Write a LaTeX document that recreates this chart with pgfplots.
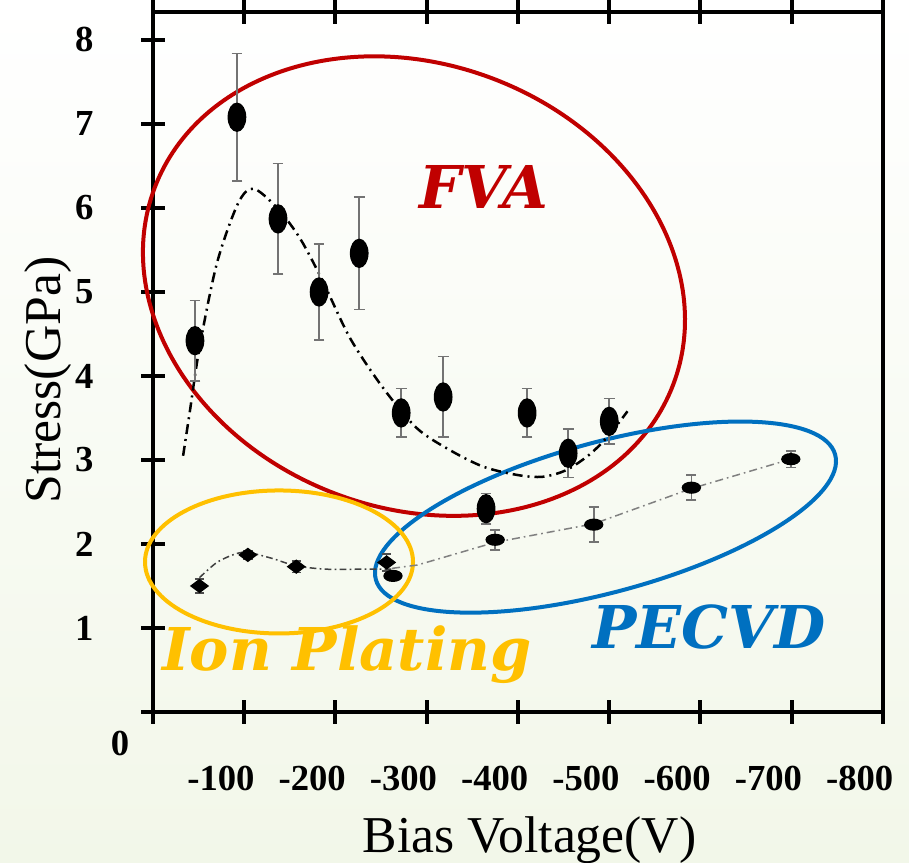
\documentclass[border=0pt]{standalone}
\usepackage{fontspec}
\setmainfont{Liberation Serif}
\newfontfamily\annfont{DejaVu Serif}
\usepackage{pgfplots}
\usepackage{pgfplotstable}
\pgfplotsset{compat=1.18}

\definecolor{fvared}{RGB}{192,0,0}
\definecolor{ionyellow}{RGB}{255,192,0}
\definecolor{pecblue}{RGB}{0,112,192}
\definecolor{bgbottom}{RGB}{242,247,233}

% FVA points (bias as positive magnitude)
\pgfplotstableread{
x   y    e
46  4.42 0.48
92  7.08 0.76
137 5.87 0.66
182 5.00 0.57
226 5.46 0.67
272 3.56 0.29
318 3.75 0.48
365 2.42 0.18
410 3.56 0.29
455 3.08 0.29
500 3.46 0.27
}\fvadata

\pgfplotstableread{
x   y
33  3.05
40  3.55
51  4.34
70  5.34
93  6.05
110 6.23
136 6.00
161 5.64
186 5.13
216 4.45
252 3.86
289 3.38
325 3.12
362 2.92
400 2.82
427 2.80
453 2.88
479 3.07
500 3.30
520 3.58
}\fvafit

\pgfplotstableread{
x   y    e
51  1.50 0.08
104 1.87 0.05
157 1.73 0.07
256 1.78 0.10
}\iondata

\pgfplotstableread{
x   y
51  1.60
70  1.78
90  1.88
104 1.90
130 1.83
157 1.74
190 1.70
230 1.70
262 1.70
}\ionfit

\pgfplotstableread{
x   y    e
263 1.62 0.05
375 2.05 0.12
483 2.23 0.21
590 2.67 0.15
699 3.01 0.10
}\pecdata

\pgfplotstableread{
x   y
262 1.71
290 1.75
375 2.02
483 2.24
590 2.66
699 3.01
}\pecfit

\begin{document}
\begin{tikzpicture}
\shade[top color=white, bottom color=bgbottom] (-45.9pt,-45.3pt) rectangle (226.8pt,213.6pt);
\begin{axis}[
  at={(0,0)}, anchor=south west,
  scale only axis, width=219pt, height=210pt,
  xmin=0, xmax=800, ymin=0, ymax=8.333,
  clip=false,
  axis line style={line width=1.3pt},
  xtick={0,100,...,800},
  xticklabels={,-100,-200,-300,-400,-500,-600,-700,-800},
  ytick={1,...,8},
  yticklabels={1,2,3,4,5,6,7,8},
  extra y ticks={0}, extra y tick labels={},
  xtick pos=both, ytick pos=left,
  tick align=center,
  major tick length=7pt,
  every tick/.style={black, line width=1.2pt},
  tick label style={font=\fontsize{11}{13}\selectfont\bfseries},
  yticklabel style={anchor=center, xshift=-17.1pt},
  xticklabel style={anchor=base, xshift=-7pt, yshift=-20pt},
  xlabel={Bias Voltage(V)},
  ylabel={Stress(GPa)},
  every axis x label/.style={at={(axis description cs:0.516,-0.2)}, anchor=base,
    font=\fontsize{15.5}{18}\selectfont},
  every axis y label/.style={at={(axis description cs:-0.127,0.474)}, rotate=90, anchor=base,
    font=\fontsize{15.5}{18}\selectfont},
]

% group outlines
\draw[fvared, line width=1.2pt, rotate around={-20.8:(axis cs:286,5.07)}]
  (axis cs:286,5.07) ellipse [x radius=83.2pt, y radius=66.6pt];
\draw[pecblue, line width=1.2pt, rotate around={15.2:(axis cs:495.9,2.32)}]
  (axis cs:495.9,2.32) ellipse [x radius=71.4pt, y radius=22.5pt];
\draw[ionyellow, line width=1.2pt]
  (axis cs:138.1,1.786) ellipse [x radius=40.2pt, y radius=21.45pt];

% fitted trend lines
\addplot[black, line width=0.75pt, smooth, dash pattern=on 3pt off 1.5pt on 0.6pt off 1.5pt] table[x=x,y=y] {\fvafit};
\addplot[black!75, line width=0.45pt, smooth, dash pattern=on 2pt off 1pt on 0.5pt off 1pt] table[x=x,y=y] {\ionfit};
\addplot[black!50, line width=0.45pt, dash pattern=on 2.4pt off 1.2pt on 0.5pt off 1.2pt] table[x=x,y=y] {\pecfit};

% measured points
\addplot[only marks, mark=*, mark size=4.2pt, mark options={xscale=0.62, fill=black, draw=black},
  error bars/.cd, y dir=both, y explicit,
  error bar style={black!55, line width=0.5pt},
  error mark options={rotate=90, black!55, mark size=1.6pt, line width=0.5pt}]
  table[x=x, y=y, y error=e] {\fvadata};
\addplot[only marks, mark=diamond*, mark size=2.55pt, mark options={rotate=90, fill=black, draw=black},
  error bars/.cd, y dir=both, y explicit,
  error bar style={black!70, line width=0.5pt},
  error mark options={rotate=90, black!70, mark size=1.4pt, line width=0.5pt}]
  table[x=x, y=y, y error=e] {\iondata};
\addplot[only marks, mark=*, mark size=2.7pt, mark options={yscale=0.6, fill=black, draw=black},
  error bars/.cd, y dir=both, y explicit,
  error bar style={black!55, line width=0.5pt},
  error mark options={rotate=90, black!55, mark size=1.5pt, line width=0.5pt}]
  table[x=x, y=y, y error=e] {\pecdata};

% origin label, set apart as in the original
\node[font=\fontsize{11}{13}\selectfont\bfseries] at (axis cs:-36.2,-0.375) {0};

% group names
\node[fvared, anchor=base, font=\annfont\bfseries\itshape\fontsize{17.7}{20}\selectfont] at (axis cs:362.7,5.99) {FVA};
\node[ionyellow, anchor=base, font=\annfont\bfseries\itshape\fontsize{17.7}{20}\selectfont] at (axis cs:212.6,0.494) {Ion Plating};
\node[pecblue, anchor=base, font=\annfont\bfseries\itshape\fontsize{17.7}{20}\selectfont] at (axis cs:609.3,0.756) {PECVD};
\end{axis}
\pgfresetboundingbox
\path (-45.9pt,-45.3pt) rectangle (226.8pt,213.6pt);
\end{tikzpicture}
\end{document}
